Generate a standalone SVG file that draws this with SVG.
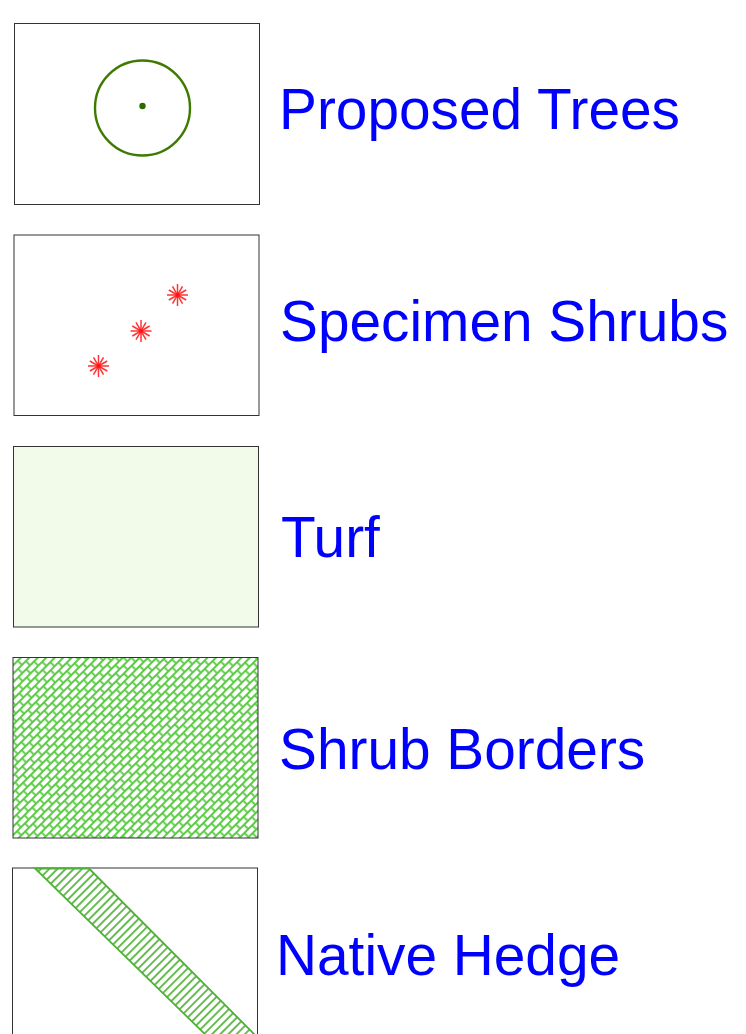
<svg xmlns="http://www.w3.org/2000/svg" width="746" height="1034" viewBox="0 0 746 1034">
<style>
.box{fill:#fff;stroke:#333;stroke-width:1}
.label{font-family:"Liberation Sans",Arial,sans-serif;font-size:56.800px;fill:#0000ff}
.burst line{stroke:#ff1010;stroke-width:1.500;stroke-opacity:.85}
</style>
<defs>
<pattern id="cross" patternUnits="userSpaceOnUse" width="11" height="12" patternTransform="rotate(-45 13 657)">
<rect width="11" height="12" fill="#fff"/>
<path d="M0 3H11M0 9H11" stroke="#5ccb45" stroke-width="1.900" fill="none"/>
<path d="M2.750 3V9M8.250 9V12M8.250 0V3" stroke="#5ccb45" stroke-width="1.900" fill="none"/>
</pattern>
<pattern id="diag" patternUnits="userSpaceOnUse" width="5.800" height="5.800" patternTransform="rotate(-45 35 868)">
<rect width="5.800" height="5.800" fill="#fff"/>
<path d="M0 2.900H5.800" stroke="#4fb236" stroke-width="1.700" fill="none"/>
</pattern>
<g id="burst" class="burst">
<line x1="0" y1="-11" x2="0" y2="11"/>
<line x1="-10.500" y1="0" x2="10.500" y2="0"/>
<line x1="-5" y1="-8.700" x2="5" y2="8.700"/>
<line x1="5" y1="-8.700" x2="-5" y2="8.700"/>
<line x1="-8.700" y1="-5" x2="8.700" y2="5"/>
<line x1="8.700" y1="-5" x2="-8.700" y2="5"/>
</g>
</defs>
<rect width="746" height="1034" fill="#fff"/>
<g id="proposed-trees">
<rect class="box" x="14.500" y="23.500" width="245" height="181"/>
<circle cx="142.500" cy="108" r="47.500" fill="none" stroke="#3f7a00" stroke-width="2.400"/>
<circle cx="142.500" cy="106" r="3.200" fill="#2f6a00"/>
<text class="label" x="279" y="129">Proposed Trees</text>
</g>
<g id="specimen-shrubs">
<rect class="box" x="14" y="235" width="245" height="180.500"/>
<use href="#burst" x="177.500" y="295"/>
<use href="#burst" x="141" y="331"/>
<use href="#burst" x="98.500" y="366"/>
<text class="label" x="280" y="341">Specimen Shrubs</text>
</g>
<g id="turf">
<rect class="box" x="13.500" y="446.500" width="245" height="180.500" style="fill:#f2fbe9"/>
<text class="label" x="281" y="557">Turf</text>
</g>
<g id="shrub-borders">
<rect class="box" x="13" y="657.500" width="245" height="180.500" style="fill:url(#cross)"/>
<text class="label" x="279" y="769">Shrub Borders</text>
</g>
<g id="native-hedge">
<rect class="box" x="12.500" y="868" width="245" height="180"/>
<path d="M35 868.500H89L262 1042H213Z" fill="url(#diag)" stroke="#4fb236" stroke-width="1.800"/>
<text class="label" x="276" y="975">Native Hedge</text>
</g>
</svg>
